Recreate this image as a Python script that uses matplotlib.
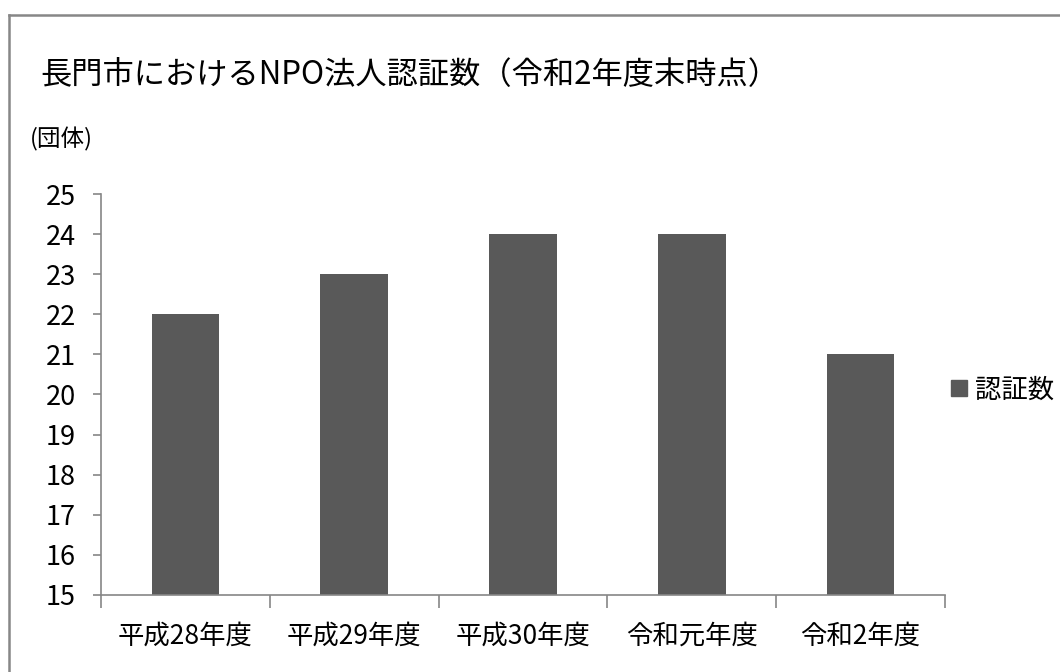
import matplotlib.pyplot as plt
from matplotlib.lines import Line2D
from matplotlib.patches import Patch
import numpy as np

plt.rcParams['font.family'] = ['Noto Sans CJK JP', 'DejaVu Sans']

# 年度ごとの認証数
categories = ["平成28年度", "平成29年度", "平成30年度", "令和元年度", "令和2年度"]
counts = [22, 23, 24, 24, 21]
yticks = list(range(15, 26))

fig = plt.figure(figsize=(10.6, 6.72), dpi=100)
ax = fig.add_axes([0.0953, 0.1146, 0.7962, 0.5967])

x = np.arange(len(categories))
ax.bar(x, counts, width=0.4, color="#595959", zorder=2)

ax.set_xlim(-0.5, len(categories) - 0.5)
ax.set_ylim(15, 25)
ax.set_yticks(yticks)
ax.tick_params(axis="y", labelsize=19.5, length=6, width=1.2, color="#868686", pad=12)

# x軸の目盛りは区切り位置、ラベルは中央
ax.set_xticks(np.arange(-0.5, len(categories)), minor=False)
ax.set_xticklabels([""] * (len(categories) + 1))
ax.set_xticks(x, minor=True)
ax.set_xticklabels(categories, minor=True, fontsize=19)
ax.tick_params(axis="x", which="major", length=9, width=1.2, color="#868686")
ax.tick_params(axis="x", which="minor", length=0, pad=20)

for s in ["top", "right"]:
    ax.spines[s].set_visible(False)
for s in ["left", "bottom"]:
    ax.spines[s].set_color("#868686")
    ax.spines[s].set_linewidth(1.2)

fig.text(0.0377, 0.888, "長門市におけるNPO法人認証数（令和2年度末時点）",
         fontsize=22.5, va="center", ha="left")
fig.text(0.028, 0.792, "(団体)", fontsize=17, va="center", ha="left")

leg = fig.legend(handles=[Patch(color="#595959", label="認証数")],
                 loc="center left", bbox_to_anchor=(0.875, 0.42),
                 frameon=False, fontsize=19, handlelength=0.6, handleheight=0.6,
                 handletextpad=0.3)

# 外枠
fig.add_artist(Line2D([0.0085, 0.0085], [0.0, 0.978], color="#878787", lw=1.8))
fig.add_artist(Line2D([0.0085, 1.0], [0.978, 0.978], color="#878787", lw=1.8))

fig.savefig("out.png", dpi=100)
